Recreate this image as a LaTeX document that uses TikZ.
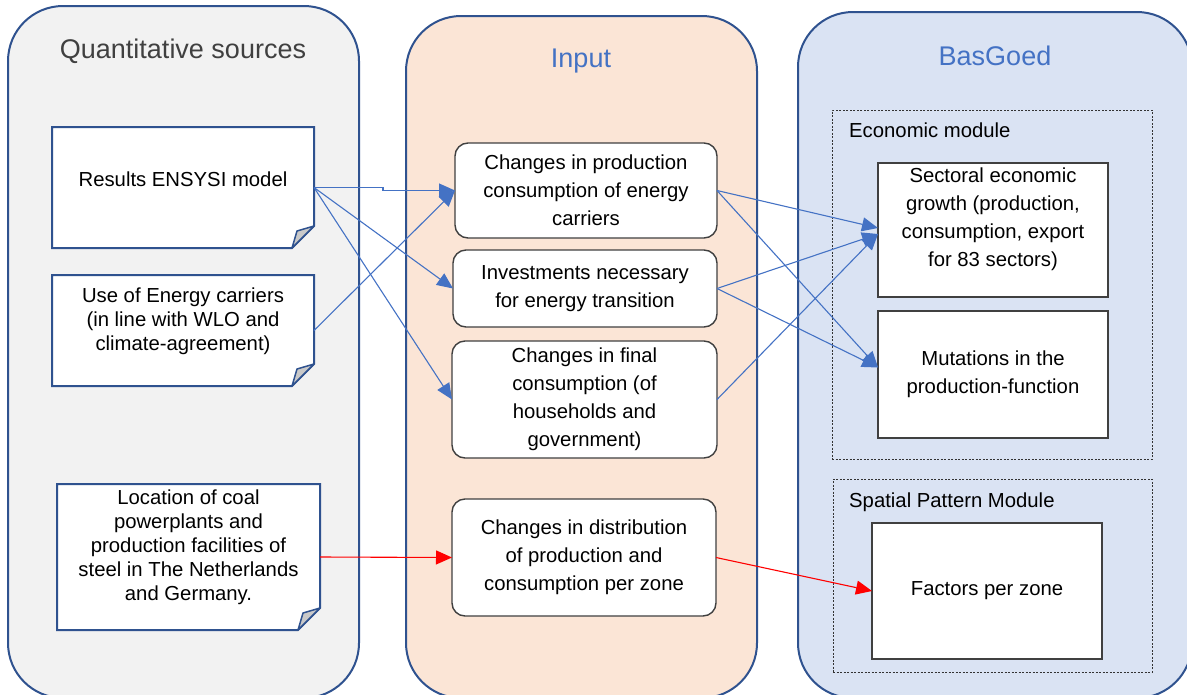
\documentclass[tikz,border=0pt]{standalone}
\usepackage{fontspec}
\setmainfont{Liberation Sans}
\usetikzlibrary{arrows.meta}
\definecolor{colborder}{HTML}{2F528F}
\definecolor{srcfill}{HTML}{F2F2F2}
\definecolor{inpfill}{HTML}{FBE5D6}
\definecolor{basfill}{HTML}{DAE3F3}
\definecolor{accent}{HTML}{4472C4}
\definecolor{titlegray}{HTML}{404040}
\definecolor{boxgray}{HTML}{404040}
\definecolor{foldgray}{HTML}{C9C9C9}
\pgfdeclarelayer{background}
\pgfsetlayers{background,main}
\tikzset{
  column/.style={draw=colborder, line width=2pt, rounded corners=55pt, inner sep=0pt},
  coltitle/.style={font=\fontsize{27}{32}\selectfont, inner sep=0pt},
  notebox/.style={inner sep=0pt, outer sep=0pt, align=center, font=\fontsize{20.3}{24}\selectfont},
  noteline/.style={draw=colborder, line width=2pt, fill=white, line join=miter},
  notefold/.style={draw=colborder, line width=1.5pt, fill=foldgray, line join=round},
  inbox/.style={draw=boxgray, line width=1.4pt, fill=white, rounded corners=13pt, inner sep=0pt, outer sep=0pt, align=center, font=\fontsize{20.3}{28}\selectfont},
  modbox/.style={draw=black!80, line width=0.8pt, dash pattern=on 2pt off 1.5pt, inner sep=0pt},
  modlabel/.style={font=\fontsize{20.3}{24}\selectfont, inner sep=0pt},
  outbox/.style={draw=boxgray, line width=1.4pt, fill=white, inner sep=0pt, outer sep=0pt, align=center, font=\fontsize{20.3}{28.3}\selectfont},
  flow/.style={accent, line width=1.1pt, -{Triangle[length=16pt,width=14pt]}},
  redflow/.style={flow, red},
}
\begin{document}
\begin{tikzpicture}[x=1pt, y=-1pt]
\useasboundingbox (0,0) rectangle (1187,694);
% the three columns
\begin{pgfonlayer}{background}
\node[column, fill=srcfill, minimum width=351, minimum height=692] (sources) at (183.5,352) {};
\node[column, fill=inpfill, minimum width=351, minimum height=682] (input) at (581.5,357) {};
\node[column, fill=basfill, minimum width=394, minimum height=686] (basgoed) at (995,355) {};
\end{pgfonlayer}
\node[coltitle, text=titlegray] (sourcestitle) at (183,51) {Quantitative sources};
\node[coltitle, text=accent] (inputtitle) at (581,61) {Input};
\node[coltitle, text=accent] (basgoedtitle) at (995,56) {BasGoed};
% sources
\node[notebox, minimum width=262, minimum height=121] (ens) at (183,187.5) {Results ENSYSI model\\[-7.5pt]\mbox{}};
\node[notebox, minimum width=262, minimum height=111] (use) at (183,330.5) {Use of Energy carriers\\(in line with WLO and\\climate-agreement)\\[-2pt]\mbox{}};
\node[notebox, minimum width=263, minimum height=146] (loc) at (188.5,557) {Location of coal\\powerplants and\\production facilities of\\steel in The Netherlands\\and Germany.\\\mbox{}};
\begin{pgfonlayer}{background}
\foreach \n in {ens,use,loc} {
  \draw[noteline] (\n.north west) -- (\n.north east) -- ([yshift=22pt]\n.south east)
    -- ([xshift=-22pt]\n.south east) -- (\n.south west) -- cycle;
  \draw[notefold] ([yshift=22pt]\n.south east) -- ([xshift=-22pt]\n.south east)
    -- ([xshift=-17pt,yshift=17pt]\n.south east) -- cycle;
}
\end{pgfonlayer}
% input
\node[inbox, minimum width=262, minimum height=95] (chg) at (586,190.5) {Changes in production\\consumption of energy\\carriers};
\node[inbox, minimum width=264, minimum height=77] (inv) at (585,288.5) {Investments necessary\\for energy transition};
\node[inbox, minimum width=265, minimum height=117] (fin) at (584.5,399.5) {Changes in final\\consumption (of\\households and\\government)};
\node[inbox, minimum width=264, minimum height=117] (dist) at (584,557.5) {Changes in distribution\\of production and\\consumption per zone};
% basgoed modules
\node[modbox, minimum width=320, minimum height=349] (eco) at (992,284.5) {};
\node[modlabel, anchor=base west] (ecolabel) at (849,137) {Economic module};
\node[outbox, minimum width=230, minimum height=134] (sect) at (993,230) {Sectoral economic\\growth (production,\\consumption, export\\for 83 sectors)\\[-2.6pt]\mbox{}};
\node[outbox, minimum width=230, minimum height=127] (mut) at (993,374.5) {Mutations in the\\production-function};
\node[modbox, minimum width=319, minimum height=193] (spat) at (992.5,575.5) {};
\node[modlabel, anchor=base west] (spatlabel) at (849,507) {Spatial Pattern Module};
\node[outbox, minimum width=230, minimum height=136] (fac) at (987,591) {Factors per zone};
% connectors
\draw[flow] (ens.east) -- ++(69,0) |- (chg.west);
\draw[flow] (ens.east) -- (inv.west);
\draw[flow] (ens.east) -- (fin.west);
\draw[flow] (use.east) -- (chg.west);
\draw[flow] (chg.east) -- ([yshift=2pt]sect.west);
\draw[flow] (chg.east) -- ([yshift=7pt]mut.west);
\draw[flow] (inv.east) -- ([yshift=-4pt]sect.west);
\draw[flow] (inv.east) -- ([yshift=7pt]mut.west);
\draw[flow] (fin.east) -- ([yshift=-4pt]sect.west);
\draw[redflow] (loc.east) -- (dist.west);
\draw[redflow] (dist.east) -- (fac.west);
\end{tikzpicture}
\end{document}
